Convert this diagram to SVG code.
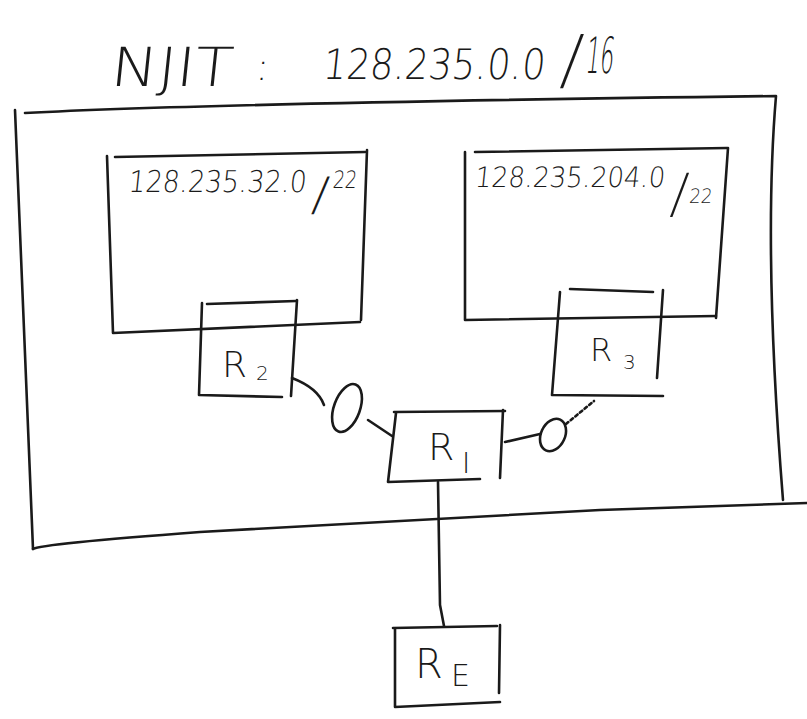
<svg xmlns="http://www.w3.org/2000/svg" width="807" height="719" viewBox="0 0 807 719">
<style>
.s{fill:none;stroke:#1a1a1a;stroke-width:2.6;stroke-linecap:round;stroke-linejoin:round}
.t{fill:#1a1a1a;font-family:"DejaVu Sans","Liberation Sans",sans-serif;font-weight:200}
.l{fill:#1a1a1a;font-family:"DejaVu Sans","Liberation Sans",sans-serif;font-weight:200}
</style>
<rect width="807" height="719" fill="#fff"/>
<g id="title">
<g transform="translate(8.4,0) skewX(-6)">
<text class="t" x="110" y="86" font-size="54" textLength="122" lengthAdjust="spacingAndGlyphs">NJIT</text>
<text class="t" x="255" y="80" font-size="38">:</text>
<text class="t" x="322" y="79" font-size="42" textLength="222" lengthAdjust="spacingAndGlyphs">128.235.0.0</text>
<text class="t" x="560" y="82" font-size="66" textLength="20" lengthAdjust="spacingAndGlyphs">/</text>
<text class="t" x="584" y="73" font-size="50" textLength="28" lengthAdjust="spacingAndGlyphs">16</text>
</g>
</g>
<g id="njit-network">
<path class="s" d="M25,113 Q220,103 776,96 Q763,250 783,500"/>
<path class="s" d="M15,110 L33,549"/>
<path class="s" d="M33,549 Q40,544 200,532 L600,510 L807,503"/>
</g>
<g id="subnet-32">
<path class="s" d="M115,157 L365,152"/>
<path class="s" d="M107,156 L113,333 L360,322"/>
<path class="s" d="M367,150 L361,320"/>
<g transform="translate(20,0) skewX(-6)">
<text class="t" x="128" y="192" font-size="30" textLength="178" lengthAdjust="spacingAndGlyphs">128.235.32.0</text>
<text class="t" x="313" y="210" font-size="46" textLength="16" lengthAdjust="spacingAndGlyphs">/</text>
<text class="t" x="332" y="188" font-size="24" textLength="24" lengthAdjust="spacingAndGlyphs">22</text>
</g>
</g>
<g id="subnet-204">
<path class="s" d="M475,152 L727,148"/>
<path class="s" d="M465,152 L465,320 L716,316"/>
<path class="s" d="M728,148 L716,318"/>
<g transform="translate(20,0) skewX(-6)">
<text class="t" x="474" y="187" font-size="28" textLength="190" lengthAdjust="spacingAndGlyphs">128.235.204.0</text>
<text class="t" x="672" y="212" font-size="54" textLength="16" lengthAdjust="spacingAndGlyphs">/</text>
<text class="t" x="690" y="203" font-size="20" textLength="23" lengthAdjust="spacingAndGlyphs">22</text>
</g>
</g>
<g id="R2">
<path class="s" d="M207,304 L296,301"/>
<path class="s" d="M202,303 L199,395 L282,397"/>
<path class="s" d="M297,300 L291,396"/>
<text class="l" x="222" y="377" font-size="36">R</text>
<text class="l" x="256" y="380" font-size="20">2</text>
</g>
<g id="R3">
<path class="s" d="M570,289 L653,292"/>
<path class="s" d="M560,292 L552,395 L663,396"/>
<path class="s" d="M663,290 L657,378"/>
<text class="l" x="590" y="361" font-size="32">R</text>
<text class="l" x="623" y="369" font-size="20">3</text>
</g>
<g id="RI">
<path class="s" d="M394,412 L505,411"/>
<path class="s" d="M396,413 L388,482 L480,479"/>
<path class="s" d="M503,410 L500,478"/>
<text class="l" x="428" y="460" font-size="38">R</text>
<text class="l" x="462" y="473" font-size="28">I</text>
</g>
<g id="RE">
<path class="s" d="M393,628 L497,626"/>
<path class="s" d="M395,629 L395,707 L500,702"/>
<path class="s" d="M500,625 L499,693"/>
<text class="l" x="415" y="678" font-size="40">R</text>
<text class="l" x="451" y="686" font-size="30">E</text>
</g>
<g id="if-R2-RI">
<ellipse class="s" cx="347" cy="408" rx="13" ry="25" transform="rotate(20 347 408)"/>
</g>
<g id="if-RI-R3">
<ellipse class="s" cx="553" cy="435" rx="12" ry="17" transform="rotate(25 553 435)"/>
</g>
<g id="connectors">
<path class="s" d="M292,378 Q318,388 324,405" stroke-width="1.8"/>
<path class="s" d="M368,420 L392,436" stroke-width="3"/>
<path class="s" d="M505,442 L540,434" stroke-width="2"/>
<path class="s" d="M566,424 L594,401" stroke-width="2" stroke-dasharray="3 3"/>
<path class="s" d="M438,482 L440,605 L444,626"/>
</g>
</svg>
